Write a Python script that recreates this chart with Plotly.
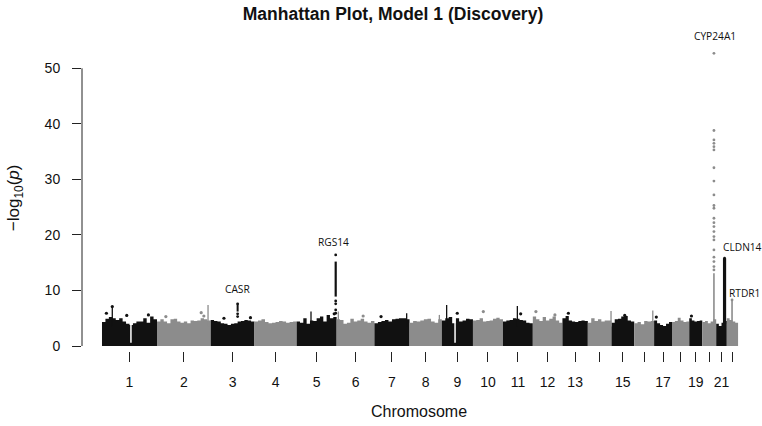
import plotly.graph_objects as go

# ---------------- data ----------------
chrom_length_mb = [249, 243, 198, 191, 181, 171, 159, 146, 141, 136, 135, 134,
                   115, 107, 103, 90, 81, 78, 59, 63, 48, 51]
tick_labels = ["1", "2", "3", "4", "5", "6", "7", "8", "9", "10", "11", "12", "13",
               "", "15", "", "17", "", "19", "", "21", ""]
y_ticks = [0, 10, 20, 30, 40, 50]

# upper edge of the dense SNP mass per chromosome (-log10 p), evenly spaced bins
env_1 = [4.3, 4.9, 5.2, 5.0, 4.7, 5.0, 4.4, 4.0, 3.8, 4.1, 4.4, 4.4, 5.0, 4.2, 5.3, 4.8]
env_2 = [4.4, 4.8, 4.4, 4.1, 4.8, 4.9, 4.4, 4.2, 4.4, 4.1, 4.6, 4.5, 4.6, 5.0, 4.8, 4.6]
env_3 = [4.7, 4.5, 4.4, 4.1, 4.0, 3.8, 4.0, 4.1, 4.4, 4.5, 4.7, 4.6, 4.4]
env_4 = [4.4, 4.6, 4.8, 4.3, 4.1, 4.2, 4.3, 4.5, 4.4, 4.2, 4.3, 4.4]
env_5 = [4.4, 4.2, 5.0, 4.0, 4.6, 4.5, 5.0, 5.3, 4.4, 5.6, 5.0, 5.2]
env_6 = [4.8, 4.7, 4.0, 4.2, 4.9, 4.4, 4.6, 4.9, 4.4, 4.2, 4.5]
env_7 = [4.1, 4.3, 4.5, 4.7, 4.4, 4.8, 4.9, 5.0, 5.0, 4.8]
env_8 = [4.2, 4.5, 4.4, 4.6, 4.8, 4.9, 4.4, 4.2, 4.8]
env_9 = [4.6, 5.0, 5.2, 4.1, 5.0, 4.4, 4.6, 4.9, 4.8]
env_10 = [4.6, 4.7, 5.0, 4.4, 4.5, 4.6, 4.9, 5.1, 4.8]
env_11 = [4.4, 4.6, 4.7, 5.0, 4.9, 4.7, 4.6, 4.2, 4.1]
env_12 = [5.3, 4.8, 4.5, 5.2, 4.6, 4.9, 5.3, 4.6, 4.2]
env_13 = [5.0, 5.4, 4.6, 4.4, 4.3, 4.5, 4.6, 4.5]
env_14 = [4.2, 5.0, 4.5, 4.8, 4.4, 4.6, 4.6]
env_15 = [4.2, 4.8, 4.9, 5.3, 5.4, 4.6, 4.4]
env_16 = [4.1, 4.3, 3.9, 4.5, 4.4, 4.5]
env_17 = [4.6, 4.1, 3.8, 3.6, 4.0, 4.3]
env_18 = [4.3, 4.5, 5.1, 4.6, 4.3, 4.4]
env_19 = [5.0, 4.6, 4.4, 4.5, 4.6]
env_20 = [4.3, 4.5, 4.1, 4.4, 4.8]
env_21 = [4.0, 3.6, 4.2, 4.5]
env_22 = [5.0, 4.7, 4.4, 4.2]
env_list = [env_1, env_2, env_3, env_4, env_5, env_6, env_7, env_8, env_9, env_10, env_11,
            env_12, env_13, env_14, env_15, env_16, env_17, env_18, env_19, env_20, env_21, env_22]

# centromere gaps with no SNPs (chromosome, Mb)
gap_chrom = [1, 9]
gap_pos_mb = [131, 60]

# thin spikes rising out of the mass
spike_chrom = [1, 2, 5, 6, 7, 8, 9, 11, 14, 16]
spike_pos_mb = [46.6, 231, 65, 7.7, 146, 135, 22, 65, 105, 84]
spike_logp = [7.1, 7.4, 6.2, 6.2, 5.9, 5.6, 7.4, 7.2, 6.3, 6.4]

# isolated SNPs above the mass
dot_chrom = [1, 1, 1, 1, 2, 2, 2, 3, 3, 5, 6, 7, 9, 10, 11, 12, 12, 13, 15, 17, 19]
dot_pos_mb = [20, 46.6, 112, 210, 40, 200, 212, 60, 180, 170, 120, 30, 70, 47, 80, 14, 100, 27, 60, 10, 10]
dot_logp = [5.9, 7.1, 5.5, 5.6, 5.3, 6.0, 5.4, 5.0, 5.1, 5.8, 5.4, 5.3, 5.9, 6.2, 5.8, 6.2, 5.6, 5.9, 5.5, 5.2, 5.4]

# associated loci
gene_names = ["CASR", "RGS14", "CYP24A1", "CLDN14", "RTDR1"]
gene_chrom = [3, 5, 20, 21, 22]
gene_pos_mb = [121.9, 176.8, 52.8, 37.8, 23.7]
gene_top_logp = [7.6, 16.4, 52.7, 15.8, 8.3]
# continuous runs of SNPs at each locus (low, high)
run_low = [6.2, 8.9, 4.0, 4.0, 4.0]
run_high = [7.6, 15.2, 13.1, 15.8, 8.3]
# separated SNPs at each locus
casr_dots = [7.6, 5.8, 5.3]
rgs14_dots = [16.4, 8.1, 7.6, 6.5, 5.9]
cyp24a1_dots = [52.7, 38.8, 37.1, 36.5, 35.9, 35.3, 32.1, 29.7, 27.2, 25.3, 24.8, 23.0,
                22.2, 21.5, 20.6, 19.7, 19.1, 17.3, 16.0, 15.2, 14.3, 13.7]
cldn14_dots = [15.8]
rtdr1_dots = [8.3]
gene_dots = [casr_dots, rgs14_dots, cyp24a1_dots, cldn14_dots, rtdr1_dots]

# ---------------- styling ----------------
BLACK = "#111111"
GRAY = "#8c8c8c"
FONT = "Liberation Sans, Arial, Helvetica, sans-serif"
GENE_FONT = "Open Sans, Noto Sans, sans-serif"
run_width = {"CASR": 2, "RGS14": 2.2, "CYP24A1": 1.6, "CLDN14": 3.2, "RTDR1": 1.6}
label_style = {  # (xanchor, xshift, yshift)
    "CASR": ("center", 0, 15),
    "RGS14": ("center", -2, 13),
    "CYP24A1": ("center", 1, 17),
    "CLDN14": ("left", -4, 11),
    "RTDR1": ("left", -5, 7),
}


def colour(c):
    return BLACK if c % 2 == 1 else GRAY


offsets = []
acc = 0
for L in chrom_length_mb:
    offsets.append(acc)
    acc += L
total = acc


def gpos(c, p):
    return offsets[c - 1] + p


X_RANGE = [-90.5, total + 54]

fig = go.Figure()

# dense mass
for i, env in enumerate(env_list):
    c = i + 1
    start, L, n = offsets[i], chrom_length_mb[i], len(env)
    xs = [start + L * k / n for k in range(n)] + [start + L]
    ys = list(env) + [env[-1]]
    fig.add_trace(go.Scatter(x=xs, y=ys, mode="lines",
                             line=dict(width=0, shape="hv", color=colour(c)),
                             fill="tozeroy", fillcolor=colour(c),
                             hoverinfo="skip", showlegend=False))

# centromere gaps
gx, gy = [], []
for c, p in zip(gap_chrom, gap_pos_mb):
    gx += [gpos(c, p), gpos(c, p), None]
    gy += [0.6, 6.0, None]
fig.add_trace(go.Scatter(x=gx, y=gy, mode="lines", line=dict(width=1.5, color="white"),
                         hoverinfo="skip", showlegend=False))

# spikes
for parity, colr in ((1, BLACK), (0, GRAY)):
    xs, ys = [], []
    for c, p, v in zip(spike_chrom, spike_pos_mb, spike_logp):
        if c % 2 == parity:
            xs += [gpos(c, p), gpos(c, p), None]
            ys += [3.5, v, None]
    fig.add_trace(go.Scatter(x=xs, y=ys, mode="lines", line=dict(width=1.3, color=colr),
                             hoverinfo="skip", showlegend=False))

# isolated dots
fig.add_trace(go.Scatter(
    x=[gpos(c, p) for c, p in zip(dot_chrom, dot_pos_mb)], y=dot_logp, mode="markers",
    marker=dict(size=3.2, color=[colour(c) for c in dot_chrom]),
    hoverinfo="skip", showlegend=False))

# loci
for g, c, p, lo, hi, dots in zip(gene_names, gene_chrom, gene_pos_mb, run_low, run_high, gene_dots):
    x = gpos(c, p)
    fig.add_trace(go.Scatter(x=[x, x], y=[lo, hi], mode="lines",
                             line=dict(width=run_width[g], color=colour(c)),
                             hoverinfo="skip", showlegend=False))
    fig.add_trace(go.Scatter(x=[x] * len(dots), y=dots, mode="markers",
                             marker=dict(size=2.8, color=colour(c)),
                             hoverinfo="skip", showlegend=False))

# gene labels (paper x so they are never clipped at the plot edge)
for g, c, p, top in zip(gene_names, gene_chrom, gene_pos_mb, gene_top_logp):
    xa, xs_, ys_ = label_style[g]
    xp = (gpos(c, p) - X_RANGE[0]) / (X_RANGE[1] - X_RANGE[0])
    fig.add_annotation(x=xp, y=top, xref="paper", yref="y", text=g, showarrow=False,
                       xanchor=xa, yanchor="middle", xshift=xs_, yshift=ys_,
                       font=dict(family=GENE_FONT, size=10.2, color="#111"))

mids = [o + L / 2 for o, L in zip(offsets, chrom_length_mb)]
major_vals = [m for m, t in zip(mids, tick_labels) if t]
major_text = [t for t in tick_labels if t]
minor_vals = [m for m, t in zip(mids, tick_labels) if not t]

fig.update_layout(
    width=762, height=426,
    margin=dict(l=82, r=12, t=40, b=75),
    plot_bgcolor="white", paper_bgcolor="white",
    title=dict(text="<b>Manhattan Plot, Model 1 (Discovery)</b>", x=393 / 762, xref="container",
               y=1 - 14 / 426, yref="container", xanchor="center", yanchor="middle",
               font=dict(family=FONT, size=17.5, color="#111")),
    xaxis=dict(range=X_RANGE, tickmode="array", tickvals=major_vals, ticktext=major_text,
               ticks="outside", ticklen=10, tickwidth=1, tickcolor="#222",
               minor=dict(tickmode="array", tickvals=minor_vals, ticks="outside",
                          ticklen=10, tickwidth=1, tickcolor="#222", showgrid=False),
               showgrid=False, zeroline=False, showline=False,
               tickfont=dict(family=FONT, size=14, color="#111"), ticklabelstandoff=8),
    yaxis=dict(range=[-0.9, 55.1], tickvals=y_ticks, ticks="outside", ticklen=9,
               tickwidth=1, tickcolor="#222", showgrid=False, zeroline=False, showline=False,
               tickfont=dict(family=FONT, size=14, color="#111"), ticklabelstandoff=9),
    showlegend=False,
)

# R-style y axis line spanning only the tick range
fig.add_shape(type="line", xref="paper", yref="y", x0=0, x1=0, y0=y_ticks[0], y1=y_ticks[-1],
              line=dict(color="#222", width=1))

# axis titles
fig.add_annotation(x=-0.1, y=0.492, xref="paper", yref="paper", textangle=-90,
                   text="\u2212log<sub>10</sub>(<i>p</i>)", showarrow=False,
                   xanchor="center", yanchor="middle",
                   font=dict(family=FONT, size=17, color="#111"))
fig.add_annotation(x=0.505, y=-0.193, xref="paper", yref="paper", text="Chromosome",
                   showarrow=False, xanchor="center", yanchor="middle",
                   font=dict(family=FONT, size=16, color="#111"))

fig.write_html("out.html", config={"displayModeBar": False},
               post_script="document.body.style.margin='0';")
